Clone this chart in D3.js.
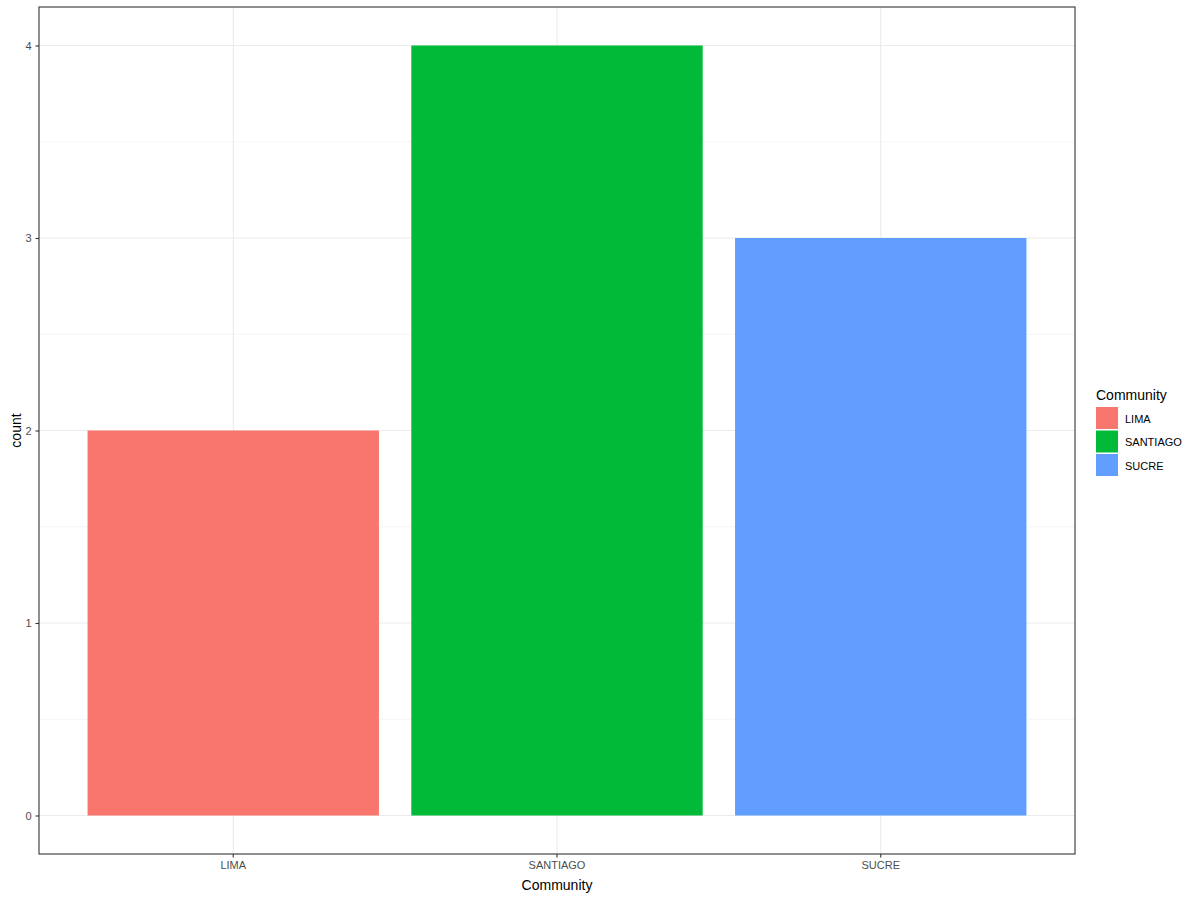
<!DOCTYPE html>
<html>
<head>
<meta charset="utf-8">
<script src="https://cdn.jsdelivr.net/npm/d3@7"></script>
<style>
  body { margin: 0; background: #fff; }
  text { font-family: "Liberation Sans", Arial, sans-serif; }
</style>
</head>
<body>
<svg id="chart" width="1200" height="900"></svg>
<script>
const categories = ["LIMA", "SANTIAGO", "SUCRE"];
const counts = [2, 4, 3];
const colors = ["#F8766D", "#00BA38", "#619CFF"];
const yTicks = [0, 1, 2, 3, 4];
const yMinor = [0.5, 1.5, 2.5, 3.5];

const width = 1200;
const height = 900;
const panel = { left: 39, top: 7, right: 1075, bottom: 854 };

const svg = d3.select("#chart");

const data = categories.map((c, i) => ({ name: c, count: counts[i], color: colors[i] }));

// discrete x scale, ggplot-style expansion
const xScale = d3.scaleBand()
  .domain(categories)
  .range([panel.left, panel.right])
  .paddingInner(0.1)
  .paddingOuter(0.15);

const yScale = d3.scaleLinear()
  .domain([-0.2, 4.2])
  .range([panel.bottom, panel.top]);

const xMid = d => xScale(d) + xScale.bandwidth() / 2;

// gridlines
svg.append("g").selectAll("line")
  .data(yMinor)
  .enter().append("line")
  .attr("x1", panel.left).attr("x2", panel.right)
  .attr("y1", d => yScale(d)).attr("y2", d => yScale(d))
  .attr("stroke", "#EBEBEB").attr("stroke-width", 0.55);

svg.append("g").selectAll("line")
  .data(yTicks)
  .enter().append("line")
  .attr("x1", panel.left).attr("x2", panel.right)
  .attr("y1", d => yScale(d)).attr("y2", d => yScale(d))
  .attr("stroke", "#EBEBEB").attr("stroke-width", 1.1);

svg.append("g").selectAll("line")
  .data(categories)
  .enter().append("line")
  .attr("x1", d => xMid(d)).attr("x2", d => xMid(d))
  .attr("y1", panel.top).attr("y2", panel.bottom)
  .attr("stroke", "#EBEBEB").attr("stroke-width", 1.1);

// bars
svg.selectAll(".bar")
  .data(data)
  .enter()
  .append("rect")
  .attr("class", "bar")
  .attr("x", d => xScale(d.name))
  .attr("y", d => yScale(d.count))
  .attr("width", xScale.bandwidth())
  .attr("height", d => yScale(0) - yScale(d.count))
  .attr("fill", d => d.color);

// panel border
svg.append("rect")
  .attr("x", panel.left)
  .attr("y", panel.top)
  .attr("width", panel.right - panel.left)
  .attr("height", panel.bottom - panel.top)
  .attr("fill", "none")
  .attr("stroke", "#333333")
  .attr("stroke-width", 1.1);

// axes
const xAxis = d3.axisBottom(xScale).tickSize(3.5).tickPadding(4);
const yAxis = d3.axisLeft(yScale)
  .tickValues(yTicks)
  .tickFormat(d3.format("d"))
  .tickSize(3.5)
  .tickPadding(4);

const gx = svg.append("g")
  .attr("transform", `translate(0, ${panel.bottom})`)
  .call(xAxis);
const gy = svg.append("g")
  .attr("transform", `translate(${panel.left}, 0)`)
  .call(yAxis);

[gx, gy].forEach(g => {
  g.select(".domain").remove();
  g.selectAll(".tick line").attr("stroke", "#333333").attr("stroke-width", 1.1);
  g.selectAll(".tick text")
    .attr("fill", "#4D4D4D")
    .style("font-size", "11px")
    .style("font-family", "'Liberation Sans', Arial, sans-serif");
});

// axis titles
svg.append("text")
  .attr("x", (panel.left + panel.right) / 2)
  .attr("y", 890)
  .attr("text-anchor", "middle")
  .style("font-size", "14px")
  .text("Community");

svg.append("text")
  .attr("transform", `translate(21, ${(panel.top + panel.bottom) / 2}) rotate(-90)`)
  .attr("text-anchor", "middle")
  .style("font-size", "14px")
  .text("count");

// legend
const legend = svg.append("g")
  .attr("transform", "translate(1096, 0)");

legend.append("text")
  .attr("x", 0)
  .attr("y", 400)
  .style("font-size", "14px")
  .text("Community");

const keyH = 23.5;
legend.selectAll("rect")
  .data(data)
  .enter()
  .append("rect")
  .attr("x", 0)
  .attr("y", (d, i) => 407 + i * keyH)
  .attr("width", 22)
  .attr("height", keyH - 1.5)
  .attr("fill", d => d.color);

legend.selectAll(".lbl")
  .data(data)
  .enter()
  .append("text")
  .attr("class", "lbl")
  .attr("x", 29)
  .attr("y", (d, i) => 407 + i * keyH + keyH / 2 + 4)
  .style("font-size", "11px")
  .text(d => d.name);
</script>
</body>
</html>
